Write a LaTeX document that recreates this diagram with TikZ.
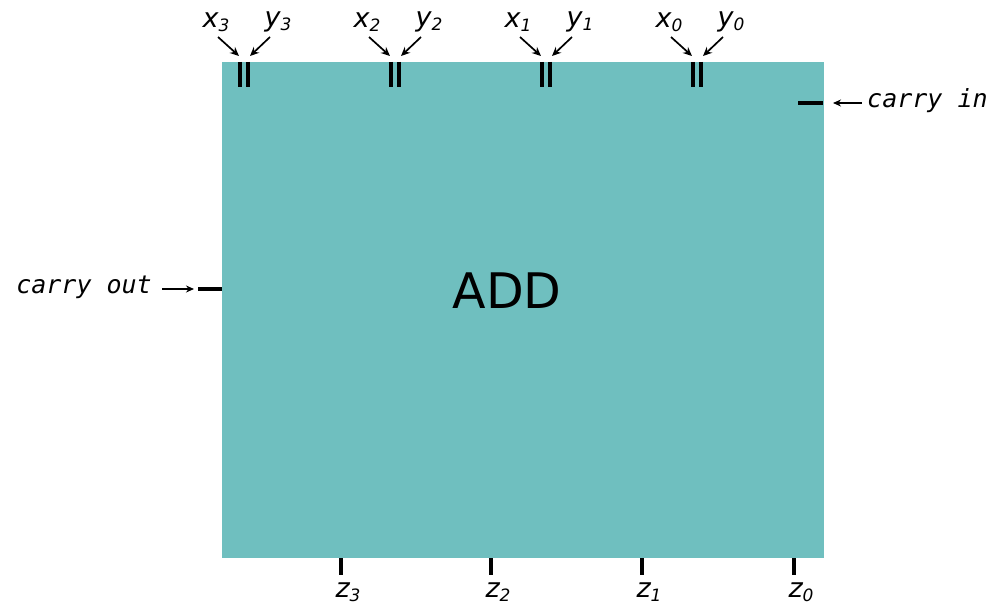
\documentclass[tikz,border=0pt]{standalone}
\usepackage{fontspec}
\setmainfont{DejaVu Sans}
\newfontfamily\monoit{DejaVu Sans Mono Oblique}
\usetikzlibrary{arrows.meta}
\definecolor{boxteal}{RGB}{111,191,191}
\newcommand{\vlab}[2]{{\fontsize{27}{27}\selectfont\itshape #1}\raisebox{-0.75ex}{\fontsize{17}{17}\selectfont\itshape #2}}
\begin{document}
\begin{tikzpicture}[x=1pt,y=-1pt,
  pinbar/.style={line width=4pt},
  inarrow/.style={line width=1.7pt,-{Stealth[length=9pt,width=8pt]}},
  lab/.style={inner sep=0pt,anchor=center},
  carrylab/.style={inner sep=0pt,font=\fontsize{25}{25}\selectfont\monoit}]
\useasboundingbox (0,0) rectangle (991,607);
\node[fill=boxteal,draw=none,minimum width=602pt,minimum height=496pt,anchor=north west,inner sep=0pt] (box) at (222,62) {};
\node[font=\fontsize{49}{49}\selectfont] (add) at (507,291) {ADD};
% top inputs
\foreach \c/\i in {244/3,395/2,546/1,697/0}{
  \draw[pinbar] (\c-4,62) -- (\c-4,87);
  \draw[pinbar] (\c+4,62) -- (\c+4,87);
  \node[lab] (x\i) at (\c-28,22) {\vlab{x}{\i}};
  \node[lab] (y\i) at (\c+34,22) {\vlab{y}{\i}};
  \coordinate (xs\i) at (\c-26,37);
  \coordinate (xe\i) at (\c-5,56);
  \coordinate (ys\i) at (\c+26,37);
  \coordinate (ye\i) at (\c+6,56);
  \draw[inarrow] (xs\i) -- (xe\i);
  \draw[inarrow] (ys\i) -- (ye\i);
}
% carry in
\draw[pinbar] (798,103) -- (823,103);
\node[carrylab,anchor=west] (cin) at (867,101) {carry in};
\coordinate (cinend) at (833,103);
\draw[inarrow,line width=1.3pt,-{Stealth[length=8pt,width=7pt]}] (cin.west) ++(-5,2) coordinate (cinstart) -- (cinend);
% carry out
\draw[pinbar] (198,289) -- (222,289);
\node[carrylab,anchor=east] (cout) at (152,287) {carry out};
\coordinate (coutend) at (194,289);
\draw[inarrow,line width=1.3pt,-{Stealth[length=8pt,width=7pt]}] (cout.east) ++(10,2) -- (coutend);
% outputs
\foreach \p/\i in {341/3,491/2,642/1,794/0}{
  \draw[pinbar] (\p,558) -- (\p,575);
  \node[lab] (z\i) at (\p+7,592) {\vlab{z}{\i}};
}
\end{tikzpicture}
\end{document}
